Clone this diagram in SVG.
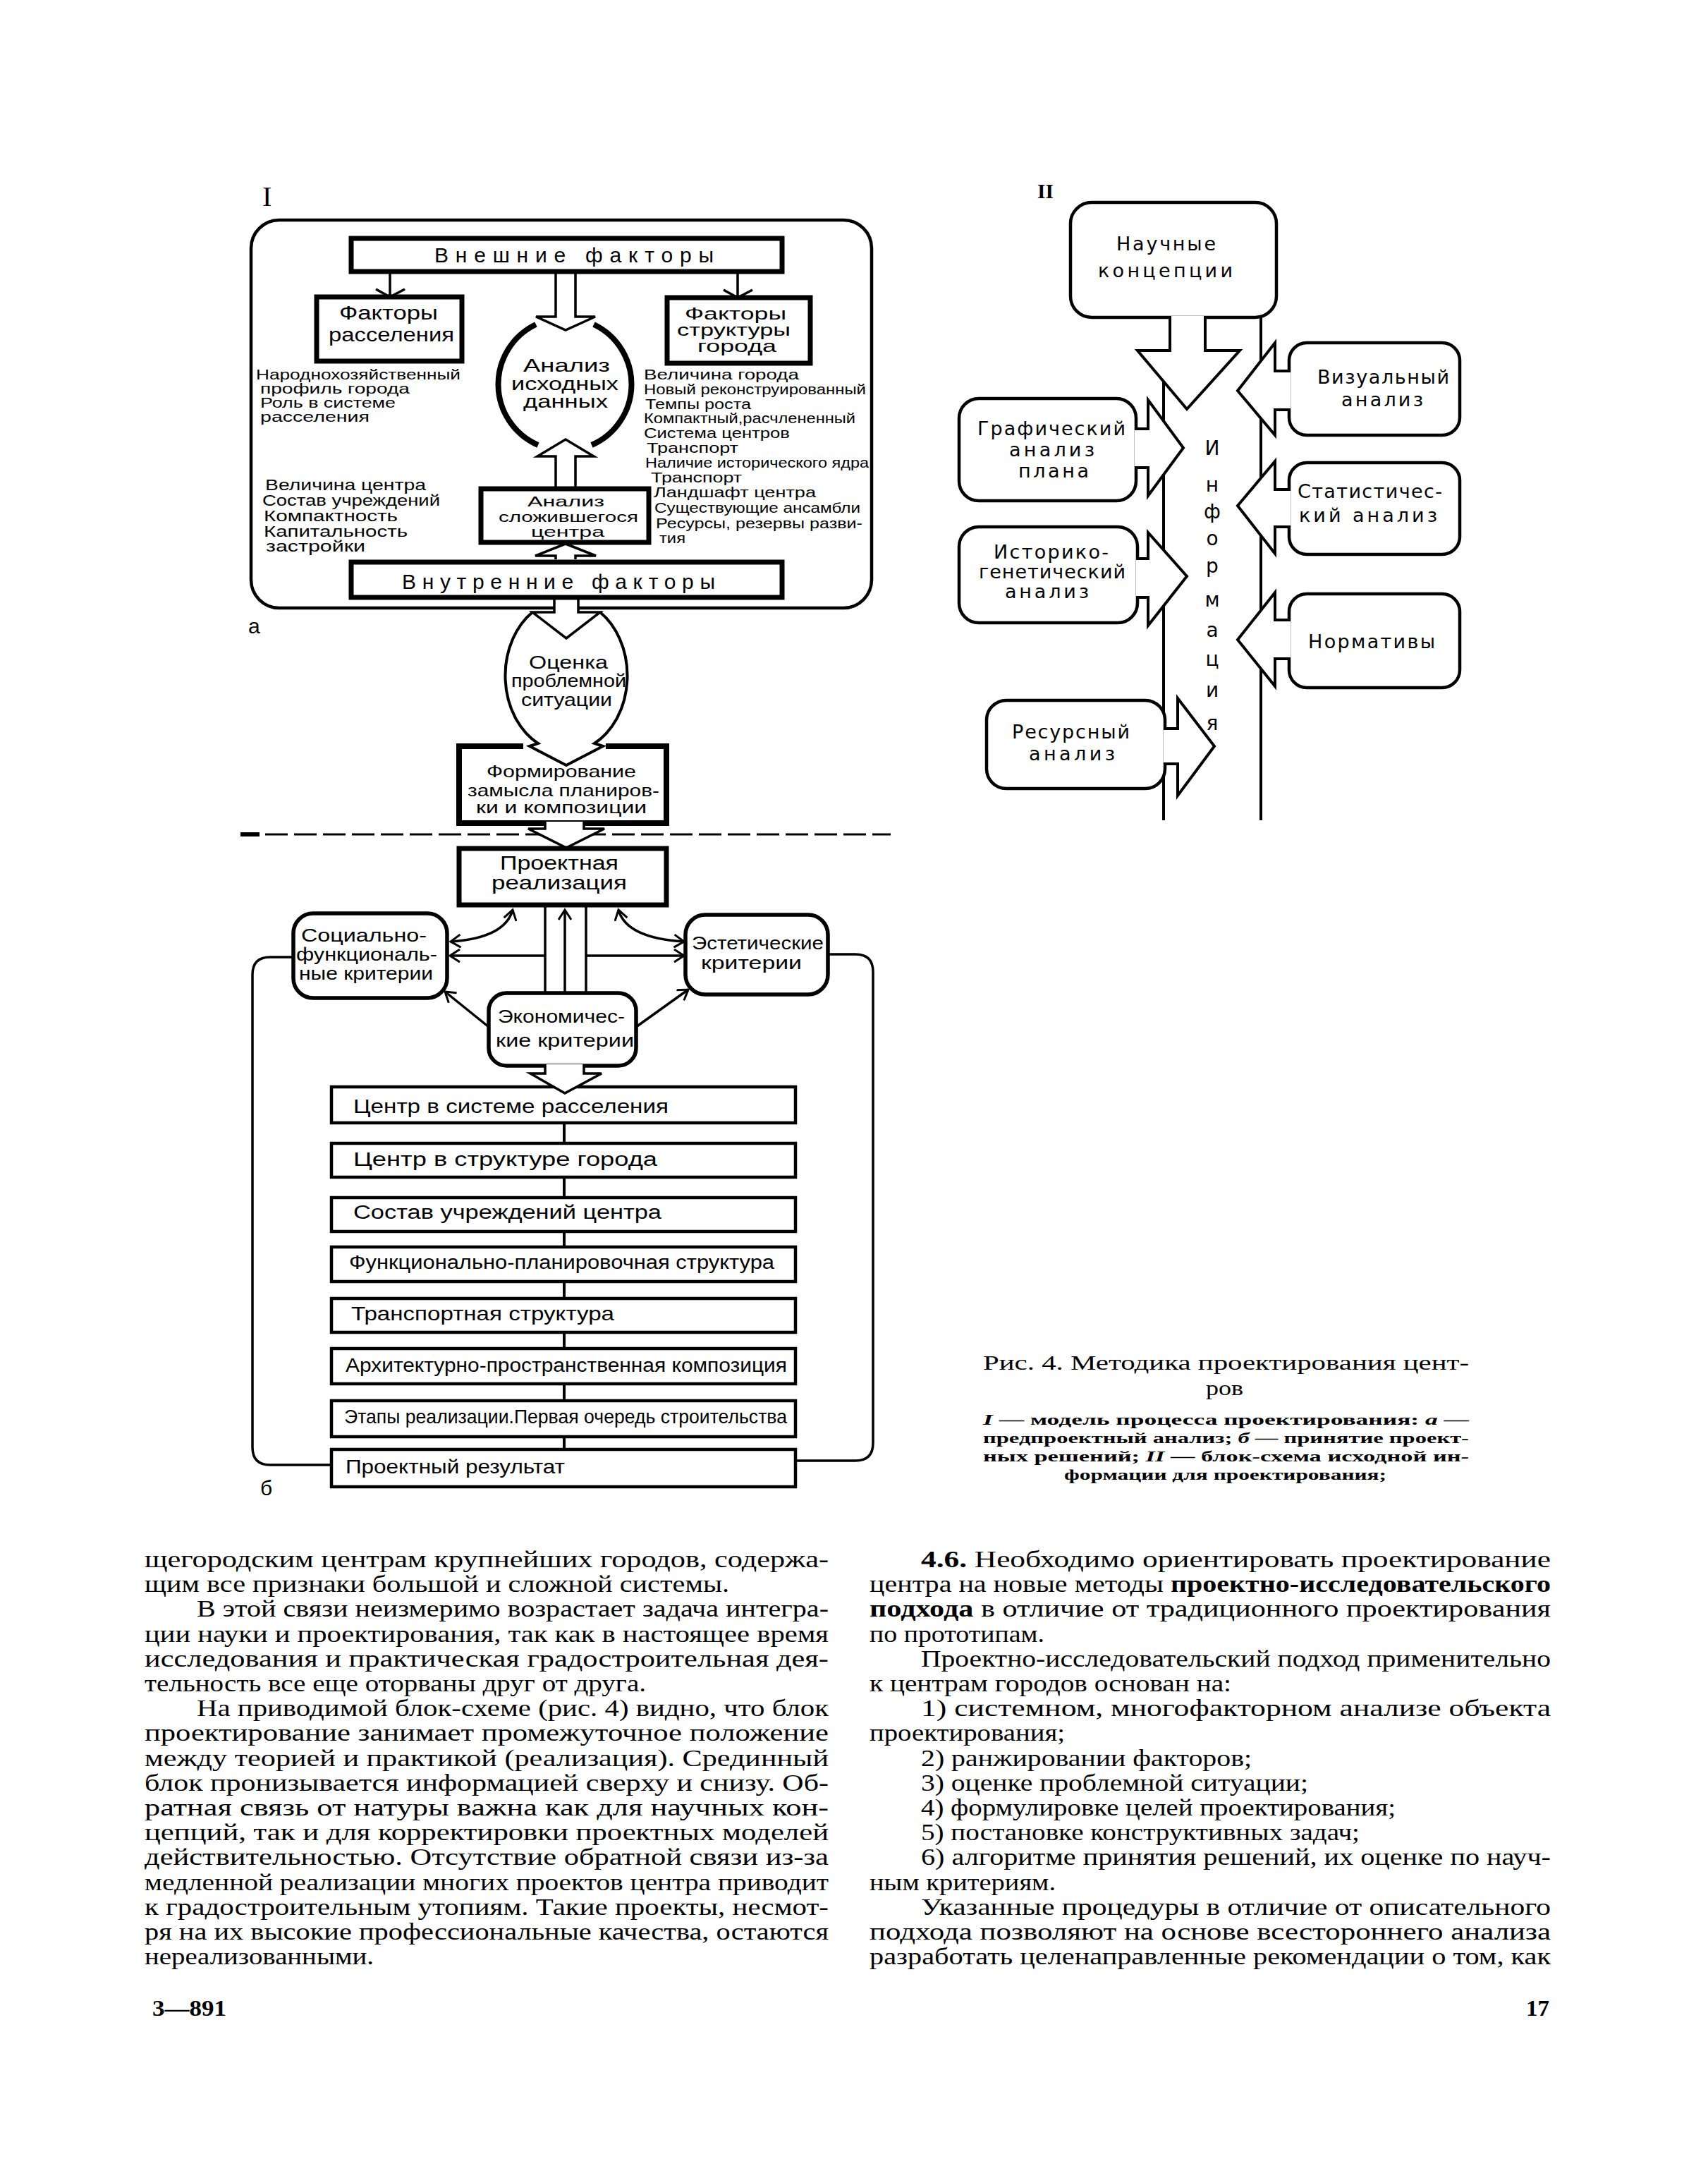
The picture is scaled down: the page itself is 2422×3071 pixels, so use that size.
<svg xmlns="http://www.w3.org/2000/svg" width="2422" height="3071" viewBox="0 0 2422 3071">
<style>
.c{font-family:"Liberation Sans Narrow","Liberation Sans",Arial,sans-serif;fill:#000}
.w{font-family:"DejaVu Sans","Liberation Sans",sans-serif;fill:#000}
.s{font-family:"Liberation Serif","Times New Roman",serif;fill:#000}
.tb{fill:#fff;stroke:#000;stroke-width:7}
.mb{fill:#fff;stroke:#000;stroke-width:4.5}
.rb{fill:#fff;stroke:#000;stroke-width:5.5}
.ln{fill:none;stroke:#000;stroke-width:3.5}
.ha{fill:#fff;stroke:#000;stroke-width:3.5;stroke-linejoin:miter}
.ha2{fill:#fff;stroke:#000;stroke-width:4;stroke-linejoin:miter}
.bt{font-size:33px}
</style>
<defs>
<marker id="v" viewBox="0 0 20 20" markerUnits="userSpaceOnUse" markerWidth="20" markerHeight="20" refX="17" refY="10" orient="auto-start-reverse">
<path d="M3,1 L17,10 L3,19" fill="none" stroke="#000" stroke-width="3"/>
</marker>
</defs>
<rect x="0" y="0" width="2422" height="3071" fill="#fff"/>

<!-- ============ Diagram I, part a ============ -->
<text class="s" x="372" y="292" font-size="40">I</text>
<g id="outer-a"><rect x="356" y="312" width="880" height="550" rx="40" ry="40" fill="none" stroke="#000" stroke-width="4.5"/></g>

<g id="connectors-a">
<line class="ln" x1="553" y1="385" x2="553" y2="420"/>
<polyline class="ln" points="533,410 553,421 574,410"/>
<line class="ln" x1="1046" y1="385" x2="1046" y2="421"/>
<polyline class="ln" points="1026,411 1046,422 1067,411"/>
<path class="ha" d="M788,388 V449 H760 L802,468 L844,449 H816 V388"/>
<path class="ha" d="M788,690 V647 H762 L802,623 L842,647 H816 V690"/>
<path class="ha" d="M788,793 V788 H759 L802,771 L845,788 H816 V793"/>
<path class="ha" d="M786,846 V868 H755 L803,905 L851,868 H820 V846"/>
</g>

<g id="n-vneshnie"><rect class="tb" x="498" y="338" width="611" height="47"/>
<text class="c" x="616" y="372" font-size="30" textLength="396" lengthAdjust="spacing">Внешние факторы</text></g>

<g id="n-rasselenie"><rect class="tb" x="449" y="421" width="206" height="91"/>
<text class="c" x="481" y="453" font-size="27" textLength="140" lengthAdjust="spacingAndGlyphs">Факторы</text>
<text class="c" x="466" y="484" font-size="27" textLength="178" lengthAdjust="spacingAndGlyphs">расселения</text></g>

<g id="n-struktura"><rect class="tb" x="946" y="422" width="203" height="93"/>
<text class="c" x="971" y="453" font-size="24" textLength="144" lengthAdjust="spacingAndGlyphs">Факторы</text>
<text class="c" x="960" y="476" font-size="24" textLength="161" lengthAdjust="spacingAndGlyphs">структуры</text>
<text class="c" x="989" y="499" font-size="24" textLength="112" lengthAdjust="spacingAndGlyphs">города</text></g>

<g id="n-analiz-ishodnyh">
<path d="M760,460 A94,94 0 0,0 763,631" fill="none" stroke="#000" stroke-width="8"/>
<path d="M842,460 A94,94 0 0,1 839,631" fill="none" stroke="#000" stroke-width="8"/>
<text class="c" x="742" y="527" font-size="26" textLength="123" lengthAdjust="spacingAndGlyphs">Анализ</text>
<text class="c" x="725" y="553" font-size="26" textLength="152" lengthAdjust="spacingAndGlyphs">исходных</text>
<text class="c" x="742" y="578" font-size="26" textLength="120" lengthAdjust="spacingAndGlyphs">данных</text></g>

<g id="t-left-top" class="c" font-size="21">
<text x="363" y="538" textLength="290" lengthAdjust="spacingAndGlyphs">Народнохозяйственный</text>
<text x="369" y="558" textLength="212" lengthAdjust="spacingAndGlyphs">профиль города</text>
<text x="369" y="578" textLength="192" lengthAdjust="spacingAndGlyphs">Роль в системе</text>
<text x="369" y="598" textLength="155" lengthAdjust="spacingAndGlyphs">расселения</text></g>

<g id="t-right" class="c" font-size="21">
<text x="913" y="538" textLength="220" lengthAdjust="spacingAndGlyphs">Величина города</text>
<text x="913" y="559" textLength="315" lengthAdjust="spacingAndGlyphs">Новый реконструированный</text>
<text x="915" y="580" textLength="150" lengthAdjust="spacingAndGlyphs">Темпы роста</text>
<text x="913" y="600" textLength="300" lengthAdjust="spacingAndGlyphs">Компактный,расчлененный</text>
<text x="913" y="621" textLength="207" lengthAdjust="spacingAndGlyphs">Система центров</text>
<text x="917" y="642" textLength="130" lengthAdjust="spacingAndGlyphs">Транспорт</text>
<text x="915" y="663" textLength="317" lengthAdjust="spacingAndGlyphs">Наличие исторического ядра</text>
<text x="923" y="684" textLength="129" lengthAdjust="spacingAndGlyphs">Транспорт</text>
<text x="927" y="705" textLength="230" lengthAdjust="spacingAndGlyphs">Ландшафт центра</text>
<text x="928" y="727" textLength="292" lengthAdjust="spacingAndGlyphs">Существующие ансамбли</text>
<text x="930" y="749" textLength="293" lengthAdjust="spacingAndGlyphs">Ресурсы, резервы разви-</text>
<text x="935" y="770" textLength="37" lengthAdjust="spacingAndGlyphs">тия</text></g>

<g id="t-left-low" class="c" font-size="22">
<text x="376" y="695" textLength="228" lengthAdjust="spacingAndGlyphs">Величина центра</text>
<text x="372" y="717" textLength="252" lengthAdjust="spacingAndGlyphs">Состав учреждений</text>
<text x="374" y="739" textLength="190" lengthAdjust="spacingAndGlyphs">Компактность</text>
<text x="374" y="761" textLength="204" lengthAdjust="spacingAndGlyphs">Капитальность</text>
<text x="377" y="782" textLength="141" lengthAdjust="spacingAndGlyphs">застройки</text></g>

<g id="n-analiz-slozh"><rect class="tb" x="682" y="693" width="238" height="76"/>
<text class="c" x="748" y="718" font-size="21" textLength="109" lengthAdjust="spacingAndGlyphs">Анализ</text>
<text class="c" x="707" y="740" font-size="21" textLength="198" lengthAdjust="spacingAndGlyphs">сложившегося</text>
<text class="c" x="753" y="761" font-size="21" textLength="104" lengthAdjust="spacingAndGlyphs">центра</text></g>

<g id="n-vnutrennie"><rect class="tb" x="498" y="797" width="611" height="50"/>
<text class="c" x="570" y="835" font-size="30" textLength="444" lengthAdjust="spacing">Внутренние факторы</text></g>

<text class="c" x="352" y="898" font-size="30">а</text>

<!-- ============ Diagram I, part b ============ -->
<g id="connectors-b">
<line x1="341" y1="1183" x2="368" y2="1183" stroke="#000" stroke-width="6"/>
<line x1="376" y1="1183" x2="1263" y2="1183" stroke="#000" stroke-width="3" stroke-dasharray="32 9"/>
<line class="ln" x1="773" y1="1283" x2="773" y2="1409"/>
<line class="ln" x1="831" y1="1283" x2="831" y2="1409"/>
<line class="ln" x1="801" y1="1406" x2="801" y2="1290" marker-end="url(#v)"/>
<line class="ln" x1="773" y1="1355" x2="638" y2="1355" marker-end="url(#v)"/>
<line class="ln" x1="831" y1="1355" x2="970" y2="1355" marker-end="url(#v)"/>
<path class="ln" d="M727,1290 Q716,1330 639,1335" marker-start="url(#v)" marker-end="url(#v)"/>
<path class="ln" d="M877,1290 Q888,1330 970,1335" marker-start="url(#v)" marker-end="url(#v)"/>
<line class="ln" x1="693" y1="1456" x2="631" y2="1406" marker-end="url(#v)"/>
<line class="ln" x1="902" y1="1456" x2="976" y2="1403" marker-end="url(#v)"/>
<path class="ln" d="M416,1357 H383 Q358,1357 358,1382 V2052 Q358,2077 383,2077 H470" stroke-width="4"/>
<path class="ln" d="M1174,1353 H1213 Q1238,1353 1238,1378 V2046 Q1238,2071 1213,2071 H1128" stroke-width="4"/>
<g stroke="#000" stroke-width="4">
<line x1="800" y1="1592" x2="800" y2="1621"/>
<line x1="800" y1="1669" x2="800" y2="1698"/>
<line x1="800" y1="1746" x2="800" y2="1768"/>
<line x1="800" y1="1817" x2="800" y2="1841"/>
<line x1="800" y1="1889" x2="800" y2="1912"/>
<line x1="800" y1="1962" x2="800" y2="1986"/>
<line x1="800" y1="2037" x2="800" y2="2055"/>
</g>
</g>

<g id="n-ocenka">
<path d="M755,868 A86,108 0 0,0 763,1054 L751,1058 L803,1085 L855,1058 L843,1054 A86,108 0 0,0 851,868" fill="none" stroke="#000" stroke-width="4"/>
<text class="c" x="750" y="948" font-size="25" textLength="112" lengthAdjust="spacingAndGlyphs">Оценка</text>
<text class="c" x="725" y="974" font-size="25" textLength="163" lengthAdjust="spacingAndGlyphs">проблемной</text>
<text class="c" x="739" y="1001" font-size="25" textLength="129" lengthAdjust="spacingAndGlyphs">ситуации</text></g>

<g id="n-formirovanie">
<path d="M742,1058 H651 V1167 H945 V1058 H859" fill="none" stroke="#000" stroke-width="8"/>
<path class="ha" d="M773,1165 V1175 H749 L803,1202 L857,1175 H828 V1165"/>
<text class="c" x="690" y="1102" font-size="24" textLength="212" lengthAdjust="spacingAndGlyphs">Формирование</text>
<text class="c" x="663" y="1129" font-size="24" textLength="272" lengthAdjust="spacingAndGlyphs">замысла планиров-</text>
<text class="c" x="675" y="1153" font-size="24" textLength="242" lengthAdjust="spacingAndGlyphs">ки и композиции</text></g>

<g id="n-proekt-real"><rect class="tb" x="651" y="1203" width="294" height="80" stroke-width="8"/>
<text class="c" x="709" y="1233" font-size="27" textLength="168" lengthAdjust="spacingAndGlyphs">Проектная</text>
<text class="c" x="697" y="1261" font-size="27" textLength="192" lengthAdjust="spacingAndGlyphs">реализация</text></g>

<g id="n-social"><rect class="rb" x="416" y="1295" width="218" height="120" rx="28"/>
<text class="c" x="427" y="1335" font-size="25" textLength="178" lengthAdjust="spacingAndGlyphs">Социально-</text>
<text class="c" x="420" y="1362" font-size="25" textLength="200" lengthAdjust="spacingAndGlyphs">функциональ-</text>
<text class="c" x="424" y="1389" font-size="25" textLength="190" lengthAdjust="spacingAndGlyphs">ные критерии</text></g>

<g id="n-estet"><rect class="rb" x="972" y="1297" width="202" height="113" rx="28"/>
<text class="c" x="981" y="1346" font-size="25" textLength="187" lengthAdjust="spacingAndGlyphs">Эстетические</text>
<text class="c" x="994" y="1374" font-size="25" textLength="143" lengthAdjust="spacingAndGlyphs">критерии</text></g>

<g id="n-econ"><rect class="rb" x="693" y="1408" width="209" height="103" rx="25"/>
<text class="c" x="706" y="1450" font-size="25" textLength="180" lengthAdjust="spacingAndGlyphs">Экономичес-</text>
<text class="c" x="703" y="1484" font-size="25" textLength="196" lengthAdjust="spacingAndGlyphs">кие критерии</text></g>

<g id="n-b1"><rect class="mb" x="470" y="1541" width="658" height="51"/>
<text class="c" x="501" y="1578" font-size="27" textLength="447" lengthAdjust="spacingAndGlyphs">Центр в системе расселения</text></g>
<path class="ha" d="M773,1509 V1522 H752 L801,1550 L853,1522 H828 V1509"/>
<g id="n-b2"><rect class="mb" x="470" y="1621" width="658" height="48"/>
<text class="c" x="501" y="1653" font-size="27" textLength="431" lengthAdjust="spacingAndGlyphs">Центр в структуре города</text></g>
<g id="n-b3"><rect class="mb" x="470" y="1698" width="658" height="48"/>
<text class="c" x="501" y="1728" font-size="27" textLength="437" lengthAdjust="spacingAndGlyphs">Состав учреждений центра</text></g>
<g id="n-b4"><rect class="mb" x="470" y="1768" width="658" height="49"/>
<text class="c" x="495" y="1799" font-size="27" textLength="603" lengthAdjust="spacingAndGlyphs">Функционально-планировочная структура</text></g>
<g id="n-b5"><rect class="mb" x="470" y="1841" width="658" height="48"/>
<text class="c" x="498" y="1872" font-size="27" textLength="373" lengthAdjust="spacingAndGlyphs">Транспортная структура</text></g>
<g id="n-b6"><rect class="mb" x="470" y="1912" width="658" height="50"/>
<text class="c" x="490" y="1945" font-size="27" textLength="626" lengthAdjust="spacingAndGlyphs">Архитектурно-пространственная композиция</text></g>
<g id="n-b7"><rect class="mb" x="470" y="1986" width="658" height="51"/>
<text class="c" x="488" y="2018" font-size="27" textLength="628" lengthAdjust="spacingAndGlyphs">Этапы реализации.Первая очередь строительства</text></g>
<g id="n-b8"><rect class="mb" x="470" y="2055" width="658" height="53"/>
<text class="c" x="490" y="2089" font-size="27" textLength="311" lengthAdjust="spacingAndGlyphs">Проектный результат</text></g>

<text class="c" x="369" y="2120" font-size="30">б</text>

<!-- ============ Diagram II ============ -->
<text class="s" x="1471" y="281" font-size="30" font-weight="bold" textLength="23" lengthAdjust="spacingAndGlyphs">II</text>

<g id="connectors-II">
<line x1="1650" y1="540" x2="1650" y2="1163" stroke="#000" stroke-width="4"/>
<line x1="1788" y1="450" x2="1788" y2="1163" stroke="#000" stroke-width="4"/>
</g>

<g id="n-nauchnye"><rect class="mb" x="1518" y="287" width="292" height="163" rx="30"/>
<path class="ha2" d="M1659,448 V497 H1613 L1683,580 L1758,497 H1709 V448"/>
<text class="w" x="1583" y="355" font-size="27" textLength="141" lengthAdjust="spacing">Научные</text>
<text class="w" x="1557" y="393" font-size="27" textLength="191" lengthAdjust="spacing">концепции</text></g>

<g id="n-graf"><rect class="mb" x="1360" y="565" width="251" height="145" rx="28"/>
<path class="ha2" d="M1609,608 H1628 V567 L1678,635 L1628,703 V663 H1609"/>
<text class="w" x="1386" y="617" font-size="27" textLength="210" lengthAdjust="spacing">Графический</text>
<text class="w" x="1431" y="647" font-size="27" textLength="121" lengthAdjust="spacing">анализ</text>
<text class="w" x="1444" y="677" font-size="27" textLength="100" lengthAdjust="spacing">плана</text></g>

<g id="n-istor"><rect class="mb" x="1360" y="747" width="253" height="136" rx="28"/>
<path class="ha2" d="M1611,792 H1628 V755 L1683,817 L1628,887 V847 H1611"/>
<text class="w" x="1409" y="792" font-size="27" textLength="163" lengthAdjust="spacing">Историко-</text>
<text class="w" x="1388" y="820" font-size="27" textLength="208" lengthAdjust="spacing">генетический</text>
<text class="w" x="1425" y="848" font-size="27" textLength="119" lengthAdjust="spacing">анализ</text></g>

<g id="n-resurs"><rect class="mb" x="1399" y="993" width="253" height="125" rx="28"/>
<path class="ha2" d="M1650,1033 H1670 V990 L1722,1058 L1670,1128 V1083 H1650"/>
<text class="w" x="1435" y="1047" font-size="27" textLength="167" lengthAdjust="spacing">Ресурсный</text>
<text class="w" x="1459" y="1078" font-size="27" textLength="122" lengthAdjust="spacing">анализ</text></g>

<g id="n-vizual"><rect class="mb" x="1828" y="486" width="242" height="131" rx="25"/>
<path class="ha2" d="M1830,526 H1808 V486 L1755,554 L1808,617 V581 H1830"/>
<text class="w" x="1868" y="544" font-size="27" textLength="187" lengthAdjust="spacing">Визуальный</text>
<text class="w" x="1902" y="576" font-size="27" textLength="116" lengthAdjust="spacing">анализ</text></g>

<g id="n-stat"><rect class="mb" x="1828" y="656" width="242" height="130" rx="25"/>
<path class="ha2" d="M1830,694 H1808 V654 L1755,717 L1808,785 V747 H1830"/>
<text class="w" x="1840" y="706" font-size="27" textLength="205" lengthAdjust="spacing">Статистичес-</text>
<text class="w" x="1842" y="740" font-size="27" textLength="196" lengthAdjust="spacing">кий анализ</text></g>

<g id="n-norm"><rect class="mb" x="1828" y="842" width="242" height="133" rx="25"/>
<path class="ha2" d="M1830,879 H1808 V840 L1755,907 L1808,973 V934 H1830"/>
<text class="w" x="1855" y="919" font-size="27" textLength="180" lengthAdjust="spacing">Нормативы</text></g>

<g id="t-informacia" class="w" font-size="28" text-anchor="middle">
<text x="1719" y="645">И</text><text x="1719" y="697">н</text><text x="1719" y="735">ф</text>
<text x="1719" y="773">о</text><text x="1719" y="812">р</text><text x="1719" y="860">м</text>
<text x="1719" y="903">а</text><text x="1719" y="944">ц</text><text x="1719" y="988">и</text>
<text x="1719" y="1035">я</text></g>

<!-- ============ Caption ============ -->
<g id="caption" class="s">
<text x="1394" y="1942" font-size="29" textLength="689" lengthAdjust="spacingAndGlyphs">Рис. 4. Методика проектирования цент-</text>
<text x="1710" y="1978" font-size="29" textLength="53" lengthAdjust="spacingAndGlyphs">ров</text>
<g font-size="21" font-weight="bold">
<text x="1394" y="2020" textLength="689" lengthAdjust="spacingAndGlyphs"><tspan font-style="italic">I</tspan> — модель процесса проектирования: <tspan font-style="italic">а</tspan> —</text>
<text x="1394" y="2046" textLength="689" lengthAdjust="spacingAndGlyphs">предпроектный анализ; <tspan font-style="italic">б</tspan> — принятие проект-</text>
<text x="1394" y="2072" textLength="689" lengthAdjust="spacingAndGlyphs">ных решений; <tspan font-style="italic">II</tspan> — блок-схема исходной ин-</text>
<text x="1509" y="2098" textLength="457" lengthAdjust="spacingAndGlyphs">формации для проектирования;</text>
</g></g>

<!-- ============ Body text ============ -->
<g id="body-left" class="s bt">
<text x="205" y="2222" textLength="970" lengthAdjust="spacingAndGlyphs">щегородским центрам крупнейших городов, содержа-</text>
<text x="205" y="2257" textLength="829" lengthAdjust="spacingAndGlyphs">щим все признаки большой и сложной системы.</text>
<text x="279" y="2292" textLength="896" lengthAdjust="spacingAndGlyphs">В этой связи неизмеримо возрастает задача интегра-</text>
<text x="205" y="2328" textLength="970" lengthAdjust="spacingAndGlyphs">ции науки и проектирования, так как в настоящее время</text>
<text x="205" y="2363" textLength="970" lengthAdjust="spacingAndGlyphs">исследования и практическая градостроительная дея-</text>
<text x="205" y="2398" textLength="711" lengthAdjust="spacingAndGlyphs">тельность все еще оторваны друг от друга.</text>
<text x="279" y="2433" textLength="896" lengthAdjust="spacingAndGlyphs">На приводимой блок-схеме (рис. 4) видно, что блок</text>
<text x="205" y="2468" textLength="970" lengthAdjust="spacingAndGlyphs">проектирование занимает промежуточное положение</text>
<text x="205" y="2504" textLength="970" lengthAdjust="spacingAndGlyphs">между теорией и практикой (реализация). Срединный</text>
<text x="205" y="2539" textLength="970" lengthAdjust="spacingAndGlyphs">блок пронизывается информацией сверху и снизу. Об-</text>
<text x="205" y="2574" textLength="970" lengthAdjust="spacingAndGlyphs">ратная связь от натуры важна как для научных кон-</text>
<text x="205" y="2609" textLength="970" lengthAdjust="spacingAndGlyphs">цепций, так и для корректировки проектных моделей</text>
<text x="205" y="2644" textLength="970" lengthAdjust="spacingAndGlyphs">действительностью. Отсутствие обратной связи из-за</text>
<text x="205" y="2680" textLength="970" lengthAdjust="spacingAndGlyphs">медленной реализации многих проектов центра приводит</text>
<text x="205" y="2715" textLength="970" lengthAdjust="spacingAndGlyphs">к градостроительным утопиям. Такие проекты, несмот-</text>
<text x="205" y="2750" textLength="970" lengthAdjust="spacingAndGlyphs">ря на их высокие профессиональные качества, остаются</text>
<text x="205" y="2785" textLength="325" lengthAdjust="spacingAndGlyphs">нереализованными.</text>
</g>

<g id="body-right" class="s bt">
<text x="1306" y="2222" textLength="893" lengthAdjust="spacingAndGlyphs"><tspan font-weight="bold">4.6.</tspan> Необходимо ориентировать проектирование</text>
<text x="1233" y="2257" textLength="966" lengthAdjust="spacingAndGlyphs">центра на новые методы <tspan font-weight="bold">проектно-исследовательского</tspan></text>
<text x="1233" y="2292" textLength="966" lengthAdjust="spacingAndGlyphs"><tspan font-weight="bold">подхода</tspan> в отличие от традиционного проектирования</text>
<text x="1233" y="2328" textLength="248" lengthAdjust="spacingAndGlyphs">по прототипам.</text>
<text x="1306" y="2363" textLength="893" lengthAdjust="spacingAndGlyphs">Проектно-исследовательский подход применительно</text>
<text x="1233" y="2398" textLength="513" lengthAdjust="spacingAndGlyphs">к центрам городов основан на:</text>
<text x="1306" y="2433" textLength="893" lengthAdjust="spacingAndGlyphs">1) системном, многофакторном анализе объекта</text>
<text x="1233" y="2468" textLength="277" lengthAdjust="spacingAndGlyphs">проектирования;</text>
<text x="1306" y="2504" textLength="469" lengthAdjust="spacingAndGlyphs">2) ранжировании факторов;</text>
<text x="1306" y="2539" textLength="549" lengthAdjust="spacingAndGlyphs">3) оценке проблемной ситуации;</text>
<text x="1306" y="2574" textLength="673" lengthAdjust="spacingAndGlyphs">4) формулировке целей проектирования;</text>
<text x="1306" y="2609" textLength="622" lengthAdjust="spacingAndGlyphs">5) постановке конструктивных задач;</text>
<text x="1306" y="2644" textLength="893" lengthAdjust="spacingAndGlyphs">6) алгоритме принятия решений, их оценке по науч-</text>
<text x="1233" y="2680" textLength="264" lengthAdjust="spacingAndGlyphs">ным критериям.</text>
<text x="1306" y="2715" textLength="893" lengthAdjust="spacingAndGlyphs">Указанные процедуры в отличие от описательного</text>
<text x="1233" y="2750" textLength="966" lengthAdjust="spacingAndGlyphs">подхода позволяют на основе всестороннего анализа</text>
<text x="1233" y="2785" textLength="966" lengthAdjust="spacingAndGlyphs">разработать целенаправленные рекомендации о том, как</text>
</g>

<g id="footer" class="s" font-weight="bold" font-size="31">
<text x="216" y="2858" textLength="105" lengthAdjust="spacingAndGlyphs">3—891</text>
<text x="2164" y="2858" textLength="33" lengthAdjust="spacingAndGlyphs">17</text>
</g>
</svg>
